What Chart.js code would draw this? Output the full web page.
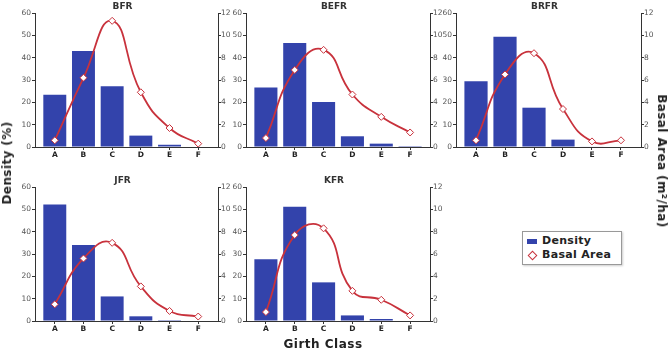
<!DOCTYPE html>
<html>
<head>
<meta charset="utf-8">
<script src="https://cdn.jsdelivr.net/npm/chart.js@4.4.1/dist/chart.umd.min.js"></script>
<style>
  body { margin: 0; background: #fff; font-family: "DejaVu Sans", sans-serif; }
  #wrap { position: relative; width: 669px; height: 353px; overflow: hidden; }
  canvas { position: absolute; }
  .lbl { position: absolute; font-weight: bold; color: #222; white-space: nowrap; }
  #legend { position: absolute; left: 522px; top: 231px; width: 98px; height: 32px;
            border: 1px solid #999; box-shadow: 1px 1px 2px #ccc; font-size: 11px; font-weight: bold; color: #222; letter-spacing: 0.3px; }
  #legend .row { position: absolute; left: 4px; height: 14px; line-height: 14px; }
  .sw { display: inline-block; width: 10px; height: 5px; background: #3343ab; vertical-align: middle; margin-right: 5px; }
  .dm { display: inline-block; width: 5px; height: 5px; border: 1px solid #c8323c; background: #fff;
        transform: rotate(45deg); vertical-align: middle; margin: 0 6px 0 2px; }
</style>
</head>
<body>
<div id="wrap">
  <canvas id="c1"></canvas>
  <canvas id="c2"></canvas>
  <canvas id="c3"></canvas>
  <canvas id="c4"></canvas>
  <canvas id="c5"></canvas>
  <div class="lbl" style="left:7px;top:163px;font-size:12px;letter-spacing:0.4px;transform:translate(-50%,-50%) rotate(-90deg);">Density (%)</div>
  <div class="lbl" style="left:662px;top:161px;font-size:12px;letter-spacing:0.4px;transform:translate(-50%,-50%) rotate(90deg);">Basal Area (m²/ha)</div>
  <div class="lbl" style="left:323px;top:344px;font-size:12px;letter-spacing:0.5px;transform:translate(-50%,-50%);">Girth Class</div>
  <div id="legend">
    <div class="row" style="top:2px;"><span class="sw"></span>Density</div>
    <div class="row" style="top:16px;"><span class="dm"></span>Basal Area</div>
  </div>
</div>
<script>
/* DATA */
const girthClasses = ["A", "B", "C", "D", "E", "F"];
const densityTicks = [0, 10, 20, 30, 40, 50, 60];
const basalTicks = [0, 2, 4, 6, 8, 10, 12];

const bfrDensity  = [23.4, 43.0, 27.2, 5.1, 1.0, 0.0];
const bfrBasal    = [0.6, 6.2, 11.3, 4.9, 1.7, 0.3];
const befrDensity = [26.6, 46.6, 20.1, 4.8, 1.5, 0.4];
const befrBasal   = [0.8, 6.9, 8.7, 4.7, 2.7, 1.3];
const brfrDensity = [29.4, 49.4, 17.6, 3.3, 0.2, 0.0];
const brfrBasal   = [0.6, 6.5, 8.4, 3.4, 0.5, 0.6];
const jfrDensity  = [52.2, 34.0, 11.0, 2.1, 0.4, 0.0];
const jfrBasal    = [1.5, 5.6, 7.0, 3.1, 0.9, 0.4];
const kfrDensity  = [27.6, 51.2, 17.3, 2.5, 0.9, 0.0];
const kfrBasal    = [0.8, 7.7, 8.3, 2.7, 1.9, 0.5];

/* LAYOUT */
const LEFT_W = 26, RIGHT_W = 18, TITLE_H = 13, XAXIS_H = 14;
const BAR_COLOR = "#3343ab";
const LINE_COLOR = "#c8323c";
const AXIS_COLOR = "#333";

Chart.defaults.font.family = "'DejaVu Sans', sans-serif";

function toPoints(values) {
  return values.map((v, i) => ({ x: i, y: v }));
}

function yScale(position, max, ticks) {
  return {
    type: "linear",
    position,
    min: 0,
    max,
    afterBuildTicks: s => { s.ticks = ticks.map(v => ({ value: v })); },
    afterFit: s => { s.width = position === "left" ? LEFT_W : RIGHT_W; },
    ticks: { color: "#555", font: { size: 7.5 }, padding: position === "left" ? 1 : 0 },
    grid: { drawOnChartArea: false, drawTicks: true, tickLength: 3, color: AXIS_COLOR },
    border: { display: true, color: AXIS_COLOR, width: 1 }
  };
}

function createPanel(id, title, density, basal, plotLeft, plotRight, plotTop, plotBottom) {
  const canvas = document.getElementById(id);
  const w = plotRight - plotLeft + LEFT_W + RIGHT_W;
  const h = plotBottom - plotTop + TITLE_H + XAXIS_H;
  canvas.width = w;
  canvas.height = h;
  canvas.style.left = (plotLeft - LEFT_W) + "px";
  canvas.style.top = (plotTop - TITLE_H) + "px";

  return new Chart(canvas.getContext("2d"), {
    data: {
      datasets: [
        {
          type: "line",
          label: "Basal Area",
          data: toPoints(basal),
          yAxisID: "y1",
          order: 0,
          borderColor: LINE_COLOR,
          borderWidth: 1.8,
          tension: 0.5,
          pointStyle: "rectRot",
          pointRadius: 3.5,
          pointBackgroundColor: "#fff",
          pointBorderColor: LINE_COLOR,
          pointBorderWidth: 1
        },
        {
          type: "bar",
          label: "Density",
          data: toPoints(density),
          yAxisID: "y",
          order: 1,
          backgroundColor: BAR_COLOR,
          barPercentage: 0.8,
          categoryPercentage: 1
        }
      ]
    },
    options: {
      responsive: false,
      animation: false,
      layout: { padding: 0 },
      plugins: {
        legend: { display: false },
        tooltip: { enabled: false },
        title: {
          display: true,
          text: title,
          color: "#333",
          font: { size: 9, weight: "bold", lineHeight: 1.2 },
          padding: { top: 1, bottom: 1.2 }
        }
      },
      scales: {
        x: {
          type: "linear",
          min: -0.69,
          max: 5.69,
          offset: false,
          afterBuildTicks: s => { s.ticks = girthClasses.map((c, i) => ({ value: i })); },
          afterFit: s => { s.height = XAXIS_H; },
          ticks: {
            color: "#222",
            font: { size: 7.5, weight: "bold" },
            padding: 1,
            maxRotation: 0,
            callback: v => girthClasses[v]
          },
          grid: { offset: false, drawOnChartArea: false, drawTicks: true, tickLength: 3, color: AXIS_COLOR },
          border: { display: true, color: AXIS_COLOR, width: 1 }
        },
        y: yScale("left", 60, densityTicks),
        y1: yScale("right", 12, basalTicks)
      }
    }
  });
}

createPanel("c1", "BFR",  bfrDensity,  bfrBasal,  35, 218, 13, 147);
createPanel("c2", "BEFR", befrDensity, befrBasal, 246, 430, 13, 147);
createPanel("c3", "BRFR", brfrDensity, brfrBasal, 456, 641, 13, 147);
createPanel("c4", "JFR",  jfrDensity,  jfrBasal,  35, 218, 187, 321);
createPanel("c5", "KFR",  kfrDensity,  kfrBasal,  246, 430, 187, 321);
</script>
</body>
</html>
